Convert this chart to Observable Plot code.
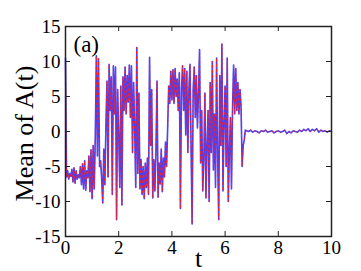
<!DOCTYPE html>
<html>
<head>
<meta charset="utf-8">
<script src="https://cdn.jsdelivr.net/npm/d3@7"></script>
<script src="https://cdn.jsdelivr.net/npm/@observablehq/plot@0.6"></script>
<style>
  html, body { margin: 0; padding: 0; background: #fff; }
  svg { display: block; }
  svg text { font-family: 'Liberation Serif', 'Times New Roman', serif !important; }
</style>
</head>
<body>
<div id="chart"></div>
<script>
// Chaotic phase: samples every 0.04 starting at t = 0
const chaoticStart = 0;
const chaoticStep = 0.04;
const chaoticValues = [
  10.5, -6.5, -5.6, -6.8, -6.0, -6.4, -5.4, -7.2, -5.2, -7.4,
  -5.6, -6.8, -6.2, -6.6, -5.0, -7.6, -4.6, -8.2, -4.2, -8.4,
  -5.6, -6.6, -3.5, -8.6, -2.6, -9.6, -2.0, -8.2, -0.8, 10.8,
  -3.5, 10.4, -5.0, -4.2, -6.8, -10.2, -2.5, -7.6, 1.0, 7.2,
  -6.5, 9.6, 3.0, 7.8, -9.0, 9.4, 2.5, 9.2, -12.6, 6.0,
  -0.5, -8.0, 6.5, -10.5, 7.8, 3.0, 9.2, 2.5, 8.0, 4.2,
  9.5, 2.0, 9.4, -3.0, 7.0, 0.5, -8.0, 12.0, -6.0, 5.5,
  -8.2, -4.0, -9.0, -5.0, -9.6, -4.5, -8.0, -3.8, -9.0, 10.6,
  -2.0, 6.0, -9.5, -4.0, -8.5, -3.0, 7.2, -9.4, -4.5, -7.5,
  -2.5, -8.6, -3.8, -6.5, -1.5, -5.0, 0.5, 6.5, 4.0, 8.6,
  4.5, 8.8, 4.0, 9.0, 5.0, 7.5, 3.0, 8.4, -11.0, 6.0,
  9.4, 3.0, 9.0, -0.5, 8.6, -3.0, 6.0, 9.6, -2.0, -13.2,
  6.0, 9.2, 2.0, 8.0, 0.5, 5.5, 11.7, -4.5, 3.0, -8.5,
  -4.0, 5.5, -9.5, -2.0, 3.0, -10.0, 7.0, -3.0, 10.0, -5.5,
  2.5, -8.0, 10.5, -3.5, -12.6, 8.0, -2.0, 12.5, -8.5, 1.0,
  6.5, -5.0, 10.5, -10.0, -3.0, 2.0, -8.2, 3.5, 9.5, 2.5,
  9.0, 3.0, 7.0, 2.5, 6.0, 3.5, -5.0, -2.0, -1.2, 0.2
];
// Settled phase: samples every 0.08 starting at t = 6.8
const settledStart = 6.8;
const settledStep = 0.08;
const settledValues = [
  0.1, 0.0, 0.2, -0.1, 0.1, 0.0, -0.2, 0.1, 0.0, 0.2,
  -0.1, 0.0, 0.1, -0.2, 0.0, 0.1, -0.1, 0.0, 0.2, -0.3,
  0.0, -0.2, 0.1, 0.0, -0.1, 0.2, 0.0, 0.3, 0.1, 0.4,
  0.0, 0.3, 0.1, 0.4, -0.1, 0.2, 0.0, 0.1, -0.1, 0.1, 0.0
];
const xTicks = [0, 2, 4, 6, 8, 10];
const yTicks = [-15, -10, -5, 0, 5, 10, 15];
const yLabel = "Mean of A(t)";
const xLabel = "t";
const panelLabel = "(a)";

const series = [
  ...chaoticValues.map((v, i) => ({t: chaoticStart + i * chaoticStep, v})),
  ...settledValues.map((v, i) => ({t: settledStart + i * settledStep, v}))
];

const W = 361, H = 271;
const mL = 65, mR = 30, mT = 26, mB = 35;
const plotW = W - mL - mR, plotH = H - mT - mB;
const tickLen = 5;
const font = "'Liberation Serif', 'Times New Roman', serif";

const chart = Plot.plot({
  width: W,
  height: H,
  marginLeft: mL,
  marginRight: mR,
  marginTop: mT,
  marginBottom: mB,
  style: {fontFamily: font, color: "#000", background: "#fff"},
  x: {domain: [0, 10], axis: null},
  y: {domain: [-15, 15], axis: null},
  marks: [
    Plot.line(series, {x: "t", y: "v", stroke: "#4040ff", strokeWidth: 1.6}),
    Plot.line(series, {x: "t", y: "v", stroke: "#ff2020", strokeWidth: 0.8, strokeDasharray: "2,3"}),
    Plot.tickX(xTicks, {x: d => d, insetTop: plotH - tickLen, stroke: "#222"}),
    Plot.tickX(xTicks, {x: d => d, insetBottom: plotH - tickLen, stroke: "#222"}),
    Plot.tickY(yTicks, {y: d => d, insetRight: plotW - tickLen, stroke: "#222"}),
    Plot.tickY(yTicks, {y: d => d, insetLeft: plotW - tickLen, stroke: "#222"}),
    Plot.frame({stroke: "#222", strokeWidth: 1.5}),
    Plot.axisX({ticks: xTicks, tickSize: 0, tickPadding: 4, label: null, fontSize: 19, fontFamily: font, tickFormat: d => String(d)}),
    Plot.axisY({ticks: yTicks, tickSize: 0, tickPadding: 5, label: null, fontSize: 19, fontFamily: font, tickFormat: d => String(d)}),
    Plot.text([yLabel], {frameAnchor: "left", rotate: -90, dx: -33, dy: 2, textAnchor: "middle", lineAnchor: "bottom", fontSize: 26, fontFamily: font, fill: "#000"}),
    Plot.text([xLabel], {frameAnchor: "bottom", dy: 30, textAnchor: "middle", lineAnchor: "bottom", fontSize: 26, fontFamily: font, fill: "#000"}),
    Plot.text([panelLabel], {frameAnchor: "top-left", dx: 8, dy: 25, lineAnchor: "bottom", textAnchor: "start", fontSize: 23, fontFamily: font, fill: "#000"})
  ]
});
document.getElementById("chart").appendChild(chart);
</script>
</body>
</html>
